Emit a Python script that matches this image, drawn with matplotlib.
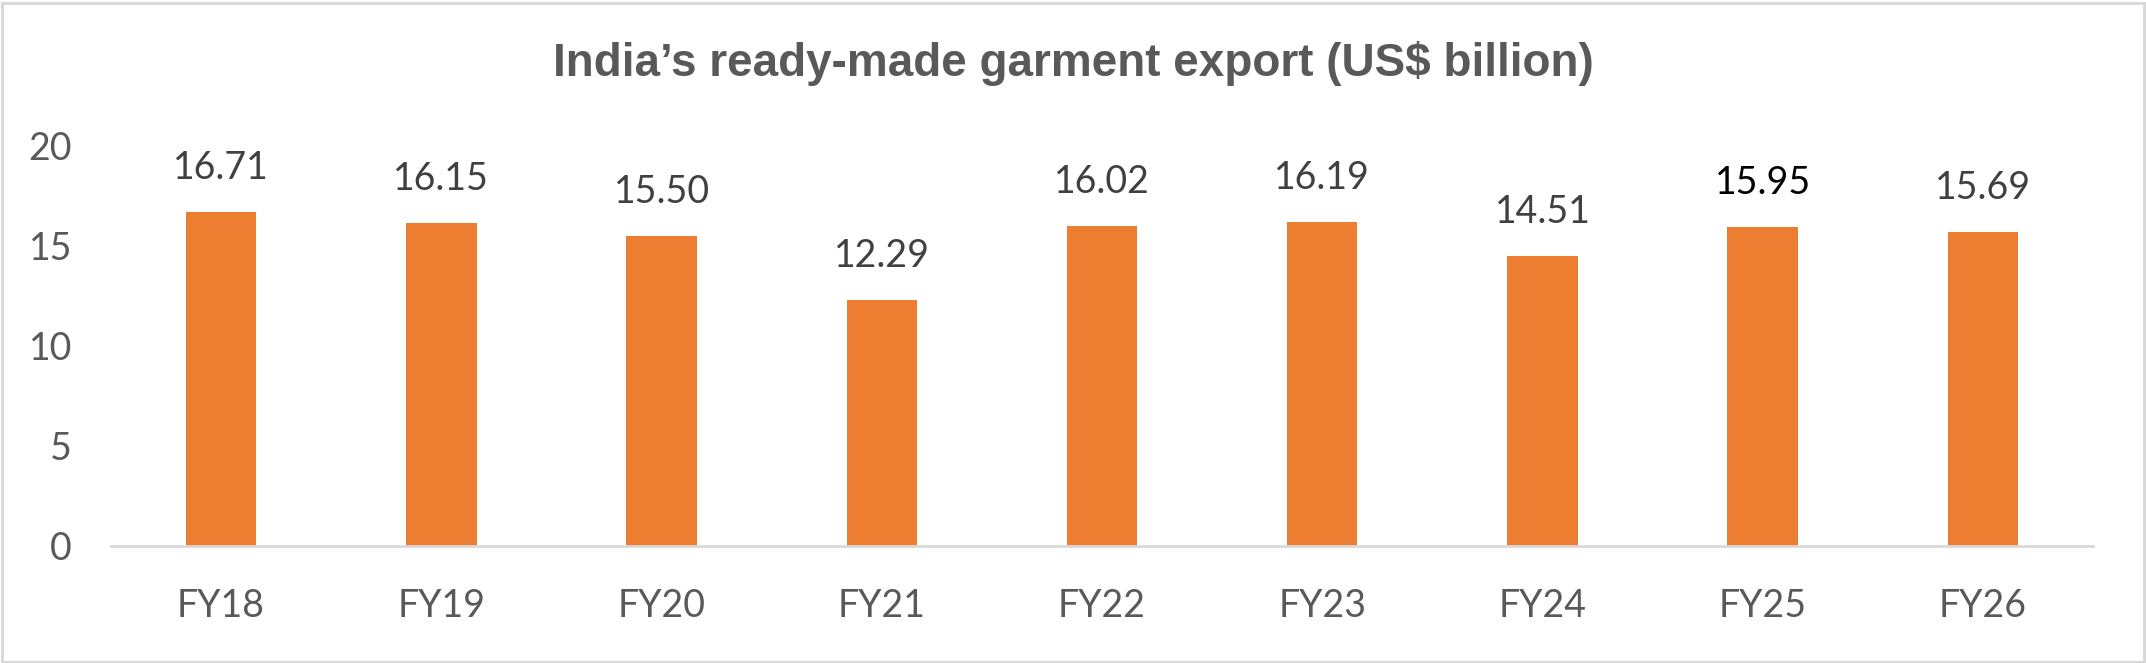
import matplotlib
matplotlib.use("Agg")
import matplotlib.pyplot as plt
from matplotlib.patches import Rectangle

categories = ["FY18", "FY19", "FY20", "FY21", "FY22", "FY23", "FY24", "FY25", "FY26"]
values = [16.71, 16.15, 15.50, 12.29, 16.02, 16.19, 14.51, 15.95, 15.69]
value_labels = ["16.71", "16.15", "15.50", "12.29", "16.02", "16.19", "14.51", "15.95", "15.69"]
yticks = [0, 5, 10, 15, 20]
title = "India\u2019s ready-made garment export (US$ billion)"

W, H, DPI = 2146, 663, 100
fig = plt.figure(figsize=(W / DPI, H / DPI), dpi=DPI)
fig.patch.set_facecolor("white")

ax = fig.add_axes([111 / W, 117 / H, 1982 / W, 400 / H])
x = list(range(len(categories)))
ax.bar(x, values, width=0.32, color="#ED7D31", zorder=2)
ax.set_xlim(-0.5, len(categories) - 0.5)
ax.set_ylim(0, 20)
ax.set_yticks(yticks)
ax.set_yticklabels([str(t) for t in yticks])
ax.set_xticks(x)
ax.set_xticklabels(categories)

font = "Lato"
for lab in ax.get_yticklabels():
    lab.set_fontfamily(font); lab.set_fontsize(27); lab.set_color("#595959")
for lab in ax.get_xticklabels():
    lab.set_fontfamily(font); lab.set_fontsize(27); lab.set_color("#595959")
ax.tick_params(axis="y", length=0, pad=28)
ax.tick_params(axis="x", length=0, pad=30)

for s in ["top", "right", "left"]:
    ax.spines[s].set_visible(False)
ax.spines["bottom"].set_color("#D9D9D9")
ax.spines["bottom"].set_linewidth(2.0)
ax.spines["bottom"].set_zorder(3)

for i, (v, t) in enumerate(zip(values, value_labels)):
    col = "#000000" if categories[i] == "FY25" else "#404040"
    ax.annotate(t, (i, v), xytext=(0, 44 * 72 / DPI), textcoords="offset points",
                ha="center", va="center", fontsize=27, fontfamily=font, color=col)

ttl = fig.text(0.5, 1 - 64 / H, title, ha="center", va="center",
               fontsize=29, fontweight="bold", fontfamily="Liberation Sans", color="#595959")
# fit title width to ~1040 px
fig.canvas.draw()
bb = ttl.get_window_extent()
ttl.set_fontsize(29 * 1040 / bb.width)

fig.patches.append(Rectangle((1.5 / W, 1.5 / H), 1 - 4 / W, 1 - 4 / H, transform=fig.transFigure,
                             fill=False, edgecolor="#D9D9D9", linewidth=2.2))

fig.savefig("out.png", dpi=DPI, facecolor="white")
